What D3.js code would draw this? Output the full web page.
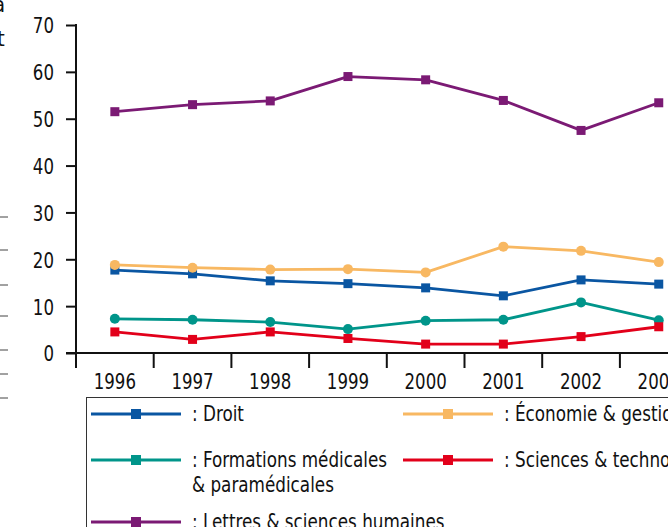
<!DOCTYPE html>
<html>
<head>
<meta charset="utf-8">
<script src="https://cdn.jsdelivr.net/npm/d3@7"></script>
<style>
  html, body { margin: 0; padding: 0; background: #fff; }
  svg { display: block; }
  text { font-family: "DejaVu Sans Condensed", "DejaVu Sans", sans-serif; font-stretch: condensed; fill: #111; }
</style>
</head>
<body>
<svg id="chart" width="668" height="527"></svg>
<script>
// Share (%) of students by field, 1996–2003
const years = ["1996", "1997", "1998", "1999", "2000", "2001", "2002", "2003"];
const droit     = [17.7, 16.9, 15.4, 14.8, 13.9, 12.2, 15.6, 14.7];
const economie  = [18.8, 18.2, 17.8, 17.9, 17.2, 22.7, 21.8, 19.4];
const medical   = [7.3, 7.1, 6.6, 5.1, 6.9, 7.1, 10.8, 7.0];
const sciences  = [4.5, 2.9, 4.5, 3.1, 1.9, 1.9, 3.5, 5.6];
const lettres   = [51.5, 53.0, 53.8, 59.0, 58.3, 53.9, 47.5, 53.4];
const yTicks = [0, 10, 20, 30, 40, 50, 60, 70];

const series = [
  { name: ": Droit", values: droit, color: "#0a56a2", shape: "square" },
  { name: ": Économie & gestion", values: economie, color: "#f8b862", shape: "circle" },
  { name: ": Formations médicales\n& paramédicales", values: medical, color: "#00958a", shape: "circle" },
  { name: ": Sciences & technologies", values: sciences, color: "#e2001a", shape: "square" },
  { name: ": Lettres & sciences humaines", values: lettres, color: "#7b1a74", shape: "square" }
];

const svg = d3.select("#chart");
svg.append("rect").attr("width", 668).attr("height", 527).attr("fill", "#fff");

const x = d3.scaleBand().domain(years).range([76, 76 + 77.7 * years.length]).padding(0);
const y = d3.scaleLinear().domain([0, 70]).range([353, 25]);
const cx = d => x(d) + x.bandwidth() / 2;

// Narrow the glyphs horizontally around their anchor point
function condense(sel, k) {
  sel.each(function () {
    const t = d3.select(this);
    const ax = +t.attr("x") || 0, ay = +t.attr("y") || 0;
    t.attr("transform", `translate(${ax},${ay}) scale(${k},1) translate(${-ax},${-ay})`);
  });
}

// Edge of the adjacent table rules on the left margin
const g0 = svg.append("g");
[217, 250, 285, 316, 350, 374, 398].forEach(yy => {
  g0.append("line").attr("x1", 0).attr("x2", 8).attr("y1", yy).attr("y2", yy)
    .attr("stroke", "#444").attr("stroke-width", 1);
});
g0.append("text").attr("x", -7).attr("y", 12).attr("font-size", 22).text("a");
g0.append("text").attr("x", -3).attr("y", 46).attr("font-size", 22).text("t");

// Y axis
const yAxis = svg.append("g").attr("transform", "translate(76,0)")
  .call(d3.axisLeft(y).tickValues(yTicks).tickSize(10).tickPadding(9).tickSizeOuter(0));
yAxis.select(".domain").remove();
yAxis.selectAll(".tick line").attr("stroke", "#111").attr("stroke-width", 2);
yAxis.selectAll(".tick text").attr("font-size", 22).attr("dy", "0.36em")
  .attr("x", -22).call(condense, 0.84);
svg.append("line").attr("x1", 76).attr("x2", 76).attr("y1", 24).attr("y2", 368)
  .attr("stroke", "#111").attr("stroke-width", 2);

// X axis
svg.append("line").attr("x1", 66).attr("x2", 668).attr("y1", 353).attr("y2", 353)
  .attr("stroke", "#111").attr("stroke-width", 2);
const xAxis = svg.append("g").attr("transform", "translate(0,353)")
  .call(d3.axisBottom(x).tickSize(0).tickPadding(29));
xAxis.select(".domain").remove();
xAxis.selectAll(".tick text").attr("font-size", 22).attr("dy", "0.34em").call(condense, 0.84);
years.forEach(yr => {
  svg.append("line").attr("x1", x(yr)).attr("x2", x(yr)).attr("y1", 353).attr("y2", 368)
    .attr("stroke", "#111").attr("stroke-width", 2);
});

// Lines and markers
const line = d3.line().x((d, i) => cx(years[i])).y(d => y(d));
series.forEach(s => {
  svg.append("path").datum(s.values).attr("d", line)
    .attr("fill", "none").attr("stroke", s.color).attr("stroke-width", 2.8)
    .attr("stroke-linejoin", "round");
  const g = svg.append("g");
  s.values.forEach((v, i) => {
    if (s.shape === "square") {
      g.append("rect").attr("x", cx(years[i]) - 4.5).attr("y", y(v) - 4.5)
        .attr("width", 9).attr("height", 9).attr("fill", s.color);
    } else {
      g.append("circle").attr("cx", cx(years[i])).attr("cy", y(v)).attr("r", 5)
        .attr("fill", s.color);
    }
  });
});

// Legend
svg.append("rect").attr("x", 86.5).attr("y", 397.5).attr("width", 700).attr("height", 200)
  .attr("fill", "none").attr("stroke", "#333").attr("stroke-width", 1);
const legendPos = [
  { x: 91, y: 414 }, { x: 403, y: 414 },
  { x: 91, y: 460 }, { x: 403, y: 460 },
  { x: 91, y: 522 }
];
series.forEach((s, i) => {
  const p = legendPos[i];
  const g = svg.append("g").attr("transform", `translate(${p.x},${p.y})`);
  g.append("line").attr("x1", 0).attr("x2", 90).attr("stroke", s.color).attr("stroke-width", 2.8);
  g.append("rect").attr("x", 40).attr("y", -5).attr("width", 10).attr("height", 10).attr("fill", s.color);
  const t = g.append("text").attr("x", 101).attr("y", 0).attr("font-size", 21);
  s.name.split("\n").forEach((ln, k) => {
    t.append("tspan").attr("x", 101).attr("dy", k === 0 ? "0.34em" : "1.2em").text(ln);
  });
  t.call(condense, 0.89);
});
</script>
</body>
</html>
